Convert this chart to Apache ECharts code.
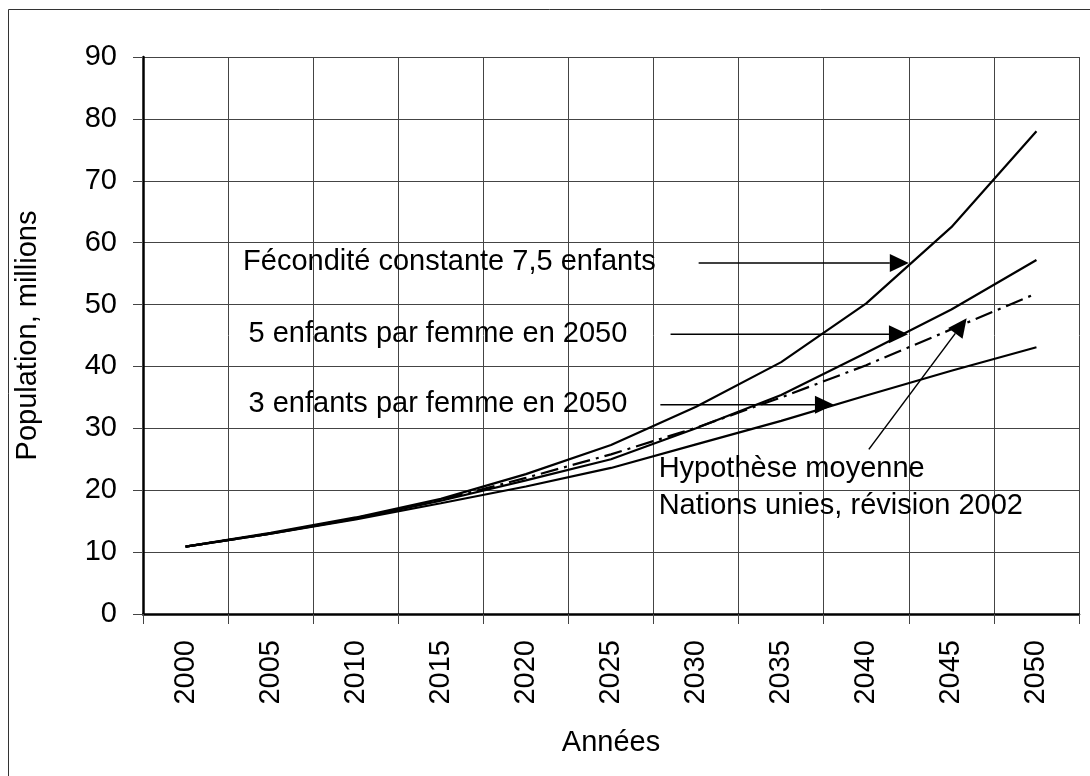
<!DOCTYPE html>
<html>
<head>
<meta charset="utf-8">
<script src="https://cdn.jsdelivr.net/npm/echarts@6/dist/echarts.min.js"></script>
<style>
  html, body { margin: 0; padding: 0; background: #fff; }
  #chart { width: 1090px; height: 776px; }
</style>
</head>
<body>
<div id="chart"></div>
<script>
// données (millions)
const years = ['2000', '2005', '2010', '2015', '2020', '2025', '2030', '2035', '2040', '2045', '2050']
const fecConstante = [10.9, 13.1, 15.6, 18.6, 22.6, 27.3, 33.5, 40.7, 50.2, 62.5, 78.0]
const cinqEnfants = [10.9, 13.0, 15.4, 18.3, 21.6, 25.0, 30.0, 35.4, 42.2, 49.2, 57.2]
const troisEnfants = [10.9, 13.0, 15.3, 17.9, 20.6, 23.6, 27.4, 31.2, 35.3, 39.3, 43.1]
const hypMoyenne = [10.9, 13.0, 15.5, 18.4, 22.0, 25.8, 30.1, 35.0, 40.2, 46.0, 51.8]
const yTicks = [0, 10, 20, 30, 40, 50, 60, 70, 80, 90]

// annotations : [index année, valeur] dans le repère des données
const labels = [
  { text: 'Fécondité constante 7,5 enfants', at: [0.676, 56.9] },
  { text: '5 enfants par femme en 2050', at: [0.74, 45.2] },
  { text: '3 enfants par femme en 2050', at: [0.74, 33.9] },
  { text: 'Hypothèse moyenne', at: [5.56, 23.4] },
  { text: 'Nations unies, révision 2002', at: [5.56, 17.4] }
]
const arrows = [
  { from: [6.03, 56.7], to: [8.50, 56.7] },
  { from: [5.70, 45.2], to: [8.49, 45.2] },
  { from: [5.58, 33.8], to: [7.62, 33.8] },
  { from: [8.03, 26.6], to: [9.18, 47.8] }
]

const font = 'Liberation Sans, Arial, sans-serif'
const chart = echarts.init(document.getElementById('chart'))

function line(name, data, dash) {
  return {
    name: name,
    type: 'line',
    data: data,
    symbol: 'none',
    silent: true,
    lineStyle: { color: '#000', width: 2.2, type: dash || 'solid' },
    z: 5
  }
}

chart.setOption({
  animation: false,
  backgroundColor: '#fff',
  grid: { left: 143, right: 11, top: 57, bottom: 162 },
  xAxis: [
    {
      type: 'category',
      data: years,
      boundaryGap: true,
      name: 'Années',
      nameLocation: 'middle',
      nameGap: 114,
      nameTextStyle: { fontSize: 29, color: '#000', fontFamily: font },
      axisLine: { show: true, onZero: false, lineStyle: { color: '#000', width: 2.5 } },
      axisTick: { show: true, length: 10, lineStyle: { color: '#444', width: 1 } },
      axisLabel: { rotate: 90, margin: 26, fontSize: 29, color: '#000', fontFamily: font },
      splitLine: { show: true, showMinLine: false, lineStyle: { color: '#444', width: 1 } },
      z: 3
    },
    {
      // axe caché pour placer les annotations
      type: 'value',
      min: -0.5,
      max: 10.5,
      show: false
    }
  ],
  yAxis: {
    type: 'value',
    min: yTicks[0],
    max: yTicks[yTicks.length - 1],
    interval: 10,
    name: 'Population, millions',
    nameLocation: 'middle',
    nameRotate: 90,
    nameGap: 101,
    nameTextStyle: { fontSize: 29, color: '#000', fontFamily: font },
    axisLine: { show: true, onZero: false, lineStyle: { color: '#000', width: 2.5 } },
    axisTick: { show: true, length: 10, lineStyle: { color: '#444', width: 1 } },
    axisLabel: { margin: 26, fontSize: 29, color: '#000', fontFamily: font },
    splitLine: { show: true, showMinLine: false, lineStyle: { color: '#444', width: 1 } },
    z: 3
  },
  series: [
    line('Fécondité constante 7,5 enfants', fecConstante),
    line('5 enfants par femme en 2050', cinqEnfants),
    line('3 enfants par femme en 2050', troisEnfants),
    line('Hypothèse moyenne Nations unies, révision 2002', hypMoyenne, [18, 6, 3, 6]),
    { type: 'line', xAxisIndex: 1, data: [], silent: true }
  ]
})

// flèches et textes placés depuis les coordonnées des données
const px = p => chart.convertToPixel({ xAxisIndex: 1, yAxisIndex: 0 }, p)
const graphics = [
  {
    type: 'rect',
    shape: { x: 8.5, y: 9.5, width: 1100, height: 800 },
    style: { fill: null, stroke: '#333', lineWidth: 1 },
    silent: true
  }
]
labels.forEach(l => {
  const p = px(l.at)
  graphics.push({
    type: 'text',
    x: p[0],
    y: p[1],
    z: 10,
    style: { text: l.text, fontSize: 29, fontFamily: font, fill: '#000', align: 'left', verticalAlign: 'middle' }
  })
})
arrows.forEach(a => {
  const p0 = px(a.from)
  const p1 = px(a.to)
  const dx = p1[0] - p0[0]
  const dy = p1[1] - p0[1]
  const len = Math.sqrt(dx * dx + dy * dy)
  const ux = dx / len
  const uy = dy / len
  const hl = 19
  const hw = 9
  const bx = p1[0] - ux * hl
  const by = p1[1] - uy * hl
  graphics.push({
    type: 'line',
    z: 10,
    shape: { x1: p0[0], y1: p0[1], x2: bx, y2: by },
    style: { stroke: '#000', lineWidth: 1.5 }
  })
  graphics.push({
    type: 'polygon',
    z: 10,
    shape: { points: [[p1[0], p1[1]], [bx - uy * hw, by + ux * hw], [bx + uy * hw, by - ux * hw]] },
    style: { fill: '#000' }
  })
})
chart.setOption({ graphic: graphics })
</script>
</body>
</html>
